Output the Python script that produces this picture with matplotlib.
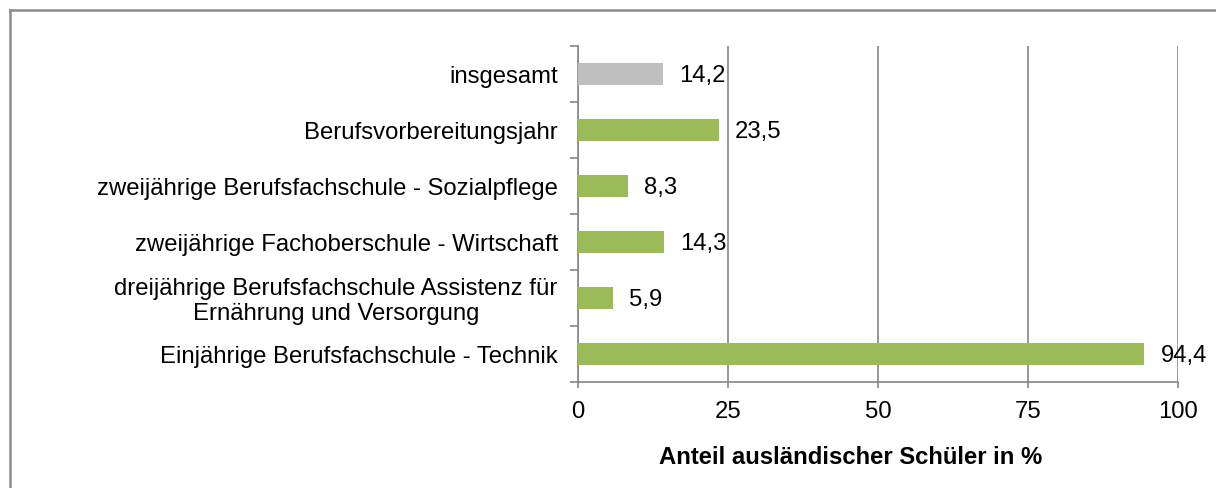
import matplotlib
matplotlib.use("Agg")
import matplotlib.pyplot as plt
from matplotlib.lines import Line2D
from matplotlib.transforms import offset_copy

plt.rcParams['font.family'] = ['Liberation Sans', 'DejaVu Sans']

categories = [
    "insgesamt",
    "Berufsvorbereitungsjahr",
    "zweijährige Berufsfachschule - Sozialpflege",
    "zweijährige Fachoberschule - Wirtschaft",
    "dreijährige Berufsfachschule Assistenz für\nErnährung und Versorgung",
    "Einjährige Berufsfachschule - Technik",
]
values = [14.2, 23.5, 8.3, 14.3, 5.9, 94.4]
bar_colors = ["#BFBFBF", "#9BBB59", "#9BBB59", "#9BBB59", "#9BBB59", "#9BBB59"]
x_ticks = [0, 25, 50, 75, 100]
x_label = "Anteil ausländischer Schüler in %"

W, H = 1216, 488
fig = plt.figure(figsize=(W / 100, H / 100), dpi=100)
ax = fig.add_axes([578 / W, 1 - 382 / H, 600 / W, 336 / H])

ypos = list(range(len(categories)))
ax.barh(ypos, values, height=0.41, color=bar_colors, zorder=3)
ax.set_ylim(len(categories) - 0.5, -0.5)
ax.set_xlim(0, 100)

fs = 17.2
ax.set_yticks(ypos)
ax.set_yticklabels(categories, fontsize=fs, multialignment="center", linespacing=1.15)
ax.set_yticks([i - 0.5 for i in range(len(categories) + 1)], minor=True)
ax.tick_params(axis="y", which="major", length=0, pad=14.5)
ax.tick_params(axis="y", which="minor", length=6, width=1.2, color="#868686", direction="out")

ax.set_xticks(x_ticks)
ax.set_xticklabels([str(t) for t in x_ticks], fontsize=fs)
ax.tick_params(axis="x", length=4.5, width=1.2, color="#868686", direction="out", pad=9)

ax.xaxis.grid(True, color="#868686", linewidth=1.2, zorder=0)
ax.set_axisbelow(True)
for s in ["top", "right"]:
    ax.spines[s].set_visible(False)
for s in ["left", "bottom"]:
    ax.spines[s].set_color("#868686")
    ax.spines[s].set_linewidth(1.2)

for y, v in zip(ypos, values):
    tr = offset_copy(ax.transData, fig=fig, x=16, y=-2, units="dots")
    ax.text(v, y, f"{v:.1f}".replace(".", ","), transform=tr, fontsize=fs,
            va="center", ha="left", zorder=4)

fig.text(851 / W, 1 - 458 / H, x_label, fontsize=fs, fontweight="bold",
         ha="center", va="center")

# outer frame (top and left)
fig.add_artist(Line2D([10 / W, 1.0], [1 - 10 / H, 1 - 10 / H], transform=fig.transFigure,
                      color="#8C8C8C", linewidth=1.8))
fig.add_artist(Line2D([10 / W, 10 / W], [0, 1 - 10 / H], transform=fig.transFigure,
                      color="#8C8C8C", linewidth=1.8))

fig.savefig("out.png", dpi=100)
